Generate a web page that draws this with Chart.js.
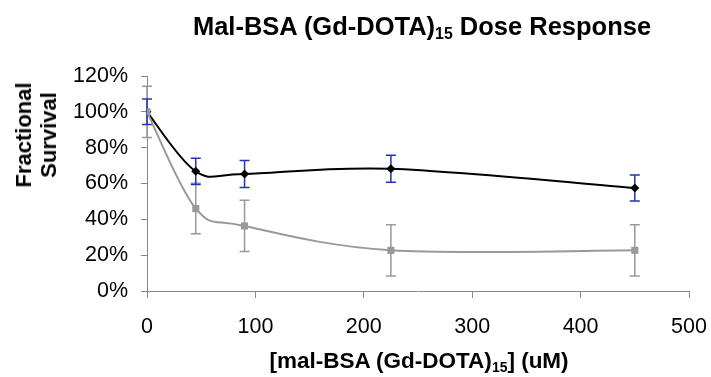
<!DOCTYPE html>
<html>
<head>
<meta charset="utf-8">
<script src="https://cdn.jsdelivr.net/npm/chart.js@4"></script>
<style>
  html, body { margin: 0; padding: 0; background: #fff; }
  #wrap { position: relative; width: 711px; height: 377px; font-family: Arial, "Liberation Sans", sans-serif; color: #000; }
  #c { position: absolute; left: 0; top: 0; }
  .t { position: absolute; font-weight: bold; white-space: nowrap; }
  #title { left: 422px; top: 12px; transform: translateX(-50%); font-size: 25.5px; }
  #xtitle { left: 419px; top: 348px; transform: translateX(-50%); font-size: 22.5px; }
  #ytitle { left: 36px; top: 135px; transform: translate(-50%, -50%) rotate(-90deg); font-size: 22px; text-align: center; line-height: 25px; }
  sub { font-size: 0.62em; vertical-align: -0.28em; line-height: 0; }
</style>
</head>
<body>
<div id="wrap">
  <canvas id="c" width="711" height="377"></canvas>
  <div class="t" id="title">Mal-BSA (Gd-DOTA)<sub>15</sub> Dose Response</div>
  <div class="t" id="xtitle">[mal-BSA (Gd-DOTA)<sub>15</sub>] (uM)</div>
  <div class="t" id="ytitle">Fractional<br>Survival</div>
</div>
<script>
// Data (doses in uM, survival in %)
const doses = [0, 45, 90, 225, 450];
const seriesA = [100, 66.8, 65.3, 68.2, 57.5];   // black diamonds
const errorsA = [7.1, 7.3, 7.5, 7.5, 7.2];
const seriesB = [100, 46, 36.3, 22.7, 22.7];     // gray squares
const errorsB = [14.3, 14.1, 14.3, 14.3, 14.3];
const yTicks = [0, 20, 40, 60, 80, 100, 120];
const xTicks = [0, 100, 200, 300, 400, 500];

const toPts = (xs, ys) => xs.map((x, i) => ({ x: x, y: ys[i] }));

// Spreadsheet-style smoothing: control points at 1/6 of the neighbour chord
const smoothLines = {
  id: 'smoothLines',
  beforeDatasetsDraw(chart) {
    chart.data.datasets.forEach((ds, di) => {
      const meta = chart.getDatasetMeta(di);
      const line = meta.dataset;
      if (!line) return;
      line.updateControlPoints(chart.chartArea, 'x');
      const pts = meta.data;
      const n = pts.length;
      for (let i = 0; i < n; i++) {
        const p = pts[i];
        const prev = pts[Math.max(0, i - 1)];
        const next = pts[Math.min(n - 1, i + 1)];
        const dx = (next.x - prev.x) / 6;
        const dy = (next.y - prev.y) / 6;
        p.cp1x = p.x - dx; p.cp1y = p.y - dy;
        p.cp2x = p.x + dx; p.cp2y = p.y + dy;
      }
    });
  }
};

const errorBars = {
  id: 'errorBars',
  beforeDatasetsDraw(chart) {
    const ctx = chart.ctx;
    const xs = chart.scales.x, ys = chart.scales.y;
    chart.data.datasets.forEach((ds) => {
      if (!ds.errors) return;
      ctx.save();
      ctx.strokeStyle = ds.errorColor;
      ctx.lineWidth = 1.5;
      ds.data.forEach((p, i) => {
        const e = ds.errors[i];
        const px = xs.getPixelForValue(p.x);
        const top = ys.getPixelForValue(p.y + e);
        const bot = ys.getPixelForValue(p.y - e);
        ctx.beginPath();
        ctx.moveTo(px, top); ctx.lineTo(px, bot);
        ctx.moveTo(px - 5, top); ctx.lineTo(px + 5, top);
        ctx.moveTo(px - 5, bot); ctx.lineTo(px + 5, bot);
        ctx.stroke();
      });
      ctx.restore();
    });
  }
};

new Chart(document.getElementById('c'), {
  type: 'scatter',
  data: {
    datasets: [
      {
        data: toPts(doses, seriesB),
        errors: errorsB,
        errorColor: '#999999',
        showLine: true,
        borderColor: '#999999',
        backgroundColor: '#999999',
        borderWidth: 2,
        pointStyle: 'rect',
        pointRadius: 5,
        pointBorderWidth: 0,
        tension: 0.3
      },
      {
        data: toPts(doses, seriesA),
        errors: errorsA,
        errorColor: '#2233bb',
        showLine: true,
        borderColor: '#000000',
        backgroundColor: '#000000',
        borderWidth: 2,
        pointStyle: 'rectRot',
        pointRadius: 4.5,
        pointBorderWidth: 0,
        tension: 0.3
      }
    ]
  },
  options: {
    responsive: false,
    animation: false,
    layout: { padding: { left: 0, right: 22, top: 76, bottom: 0 } },
    plugins: { legend: { display: false }, tooltip: { enabled: false }, title: { display: false } },
    scales: {
      x: {
        type: 'linear', min: 0, max: 500,
        afterBuildTicks: (s) => { s.ticks = xTicks.map(v => ({ value: v })); },
        afterFit: (s) => { s.height = 86; s.paddingLeft = 0; s.paddingRight = 0; },
        grid: { drawOnChartArea: false, drawTicks: true, tickLength: 7, color: '#888888' },
        border: { color: '#888888', width: 1 },
        ticks: { color: '#000', padding: 16, font: { family: 'Arial, "Liberation Sans"', size: 21.5 }, maxRotation: 0 }
      },
      y: {
        min: 0, max: 120,
        afterBuildTicks: (s) => { s.ticks = yTicks.map(v => ({ value: v })); },
        afterFit: (s) => { s.width = 147; },
        grid: { drawOnChartArea: false, drawTicks: true, tickLength: 6, color: '#888888' },
        border: { color: '#888888', width: 1 },
        ticks: { color: '#000', padding: 13, font: { family: 'Arial, "Liberation Sans"', size: 21.5 }, callback: (v) => v + '%' }
      }
    }
  },
  plugins: [errorBars, smoothLines]
});
</script>
</body>
</html>
